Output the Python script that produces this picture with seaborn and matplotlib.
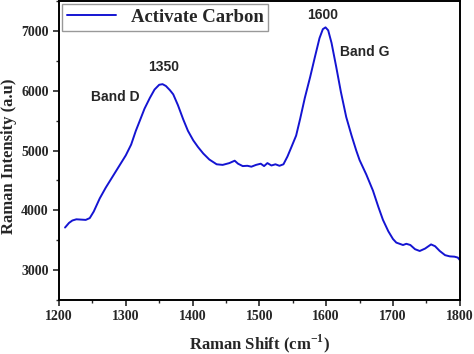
import numpy as np
import pandas as pd
import matplotlib
matplotlib.use("Agg")
import matplotlib.pyplot as plt
from matplotlib.ticker import MultipleLocator
import seaborn as sns

# Raman spectrum
shift = [1209, 1215, 1220, 1226, 1233, 1240, 1246, 1252, 1261, 1270, 1280, 1290,
         1300, 1308, 1315, 1321, 1328, 1336, 1343, 1350, 1355, 1360, 1366, 1371,
         1378, 1386, 1393, 1401, 1408, 1416, 1425, 1436, 1445, 1455, 1463, 1468,
         1475, 1482, 1488, 1495, 1502, 1507, 1512, 1518, 1524, 1530, 1536, 1542,
         1548, 1555, 1561, 1568, 1576, 1583, 1590, 1595, 1599, 1603, 1608, 1615,
         1622, 1630, 1638, 1645, 1650, 1660, 1670, 1678, 1685, 1693, 1700, 1705,
         1710, 1715, 1720, 1726, 1733, 1740, 1748, 1757, 1763, 1770, 1778, 1785,
         1792, 1797, 1800]
intensity = [3712, 3790, 3830, 3850, 3845, 3840, 3870, 3980, 4200, 4380, 4560, 4740,
             4920, 5100, 5330, 5500, 5700, 5880, 6020, 6100, 6110, 6080, 6010, 5940,
             5760, 5520, 5330, 5170, 5060, 4950, 4850, 4770, 4760, 4790, 4830, 4780,
             4740, 4745, 4730, 4760, 4780, 4740, 4790, 4750, 4770, 4745, 4770, 4900,
             5060, 5250, 5530, 5880, 6230, 6560, 6880, 7030, 7060, 7010, 6800, 6400,
             5980, 5560, 5250, 5000, 4840, 4600, 4330, 4060, 3840, 3650, 3520, 3460,
             3440, 3420, 3440, 3420, 3350, 3320, 3360, 3430, 3400, 3320, 3250, 3230,
             3225, 3210, 3170]

peak_labels = ["1350", "Band D", "1600", "Band G"]
peak_x = [1356, 1284, 1595, 1658]
peak_y = [6390, 5890, 7270, 6640]

df = pd.DataFrame({"shift": shift, "intensity": intensity})

sns.set_style("ticks")
plt.rcParams["font.family"] = ["Liberation Serif", "DejaVu Serif"]
plt.rcParams["mathtext.fontset"] = "custom"
plt.rcParams["mathtext.rm"] = "Liberation Serif:bold"
plt.rcParams["mathtext.bf"] = "Liberation Serif:bold"

fig = plt.figure(figsize=(4.74, 3.54), dpi=100)
ax = fig.add_axes([0.1245, 0.1525, 0.8455, 0.8445])

sns.lineplot(data=df, x="shift", y="intensity", ax=ax, color="#1414d2",
             linewidth=1.4, label="Activate Carbon")

ax.set_xlim(1200, 1800)
ax.set_ylim(2500, 7500)
ax.xaxis.set_major_locator(MultipleLocator(100))
ax.xaxis.set_minor_locator(MultipleLocator(50))
ax.yaxis.set_major_locator(MultipleLocator(1000))
ax.yaxis.set_minor_locator(MultipleLocator(500))
ax.tick_params(which="major", length=4, width=1.2, direction="out", labelsize=10)
ax.tick_params(which="minor", length=2.5, width=1.0, direction="out")
for lab in ax.get_xticklabels() + ax.get_yticklabels():
    lab.set_fontweight("bold")
for sp in ax.spines.values():
    sp.set_linewidth(1.4)
    sp.set_color("black")

ax.set_xlabel("Raman Shift (cm$^{\\mathrm{-1}}$)", fontsize=12, fontweight="bold")
ax.set_ylabel("Raman Intensity (a.u)", fontsize=12, fontweight="bold")
ax.xaxis.set_label_coords(0.5, -0.108)
ax.yaxis.set_label_coords(-0.104, 0.48)

for t, x, y in zip(peak_labels, peak_x, peak_y):
    ax.text(x, y, t, ha="center", va="center", fontsize=10, fontweight="bold",
            family=["Liberation Sans", "DejaVu Sans"])

leg = ax.legend(loc="upper left", bbox_to_anchor=(0.008, 0.99), borderaxespad=0,
                fancybox=False, edgecolor="gray", handlelength=2.6,
                prop={"weight": "bold", "size": 13.5}, borderpad=0.25)
leg.get_frame().set_linewidth(1.0)

fig.savefig("out.png", dpi=100)
